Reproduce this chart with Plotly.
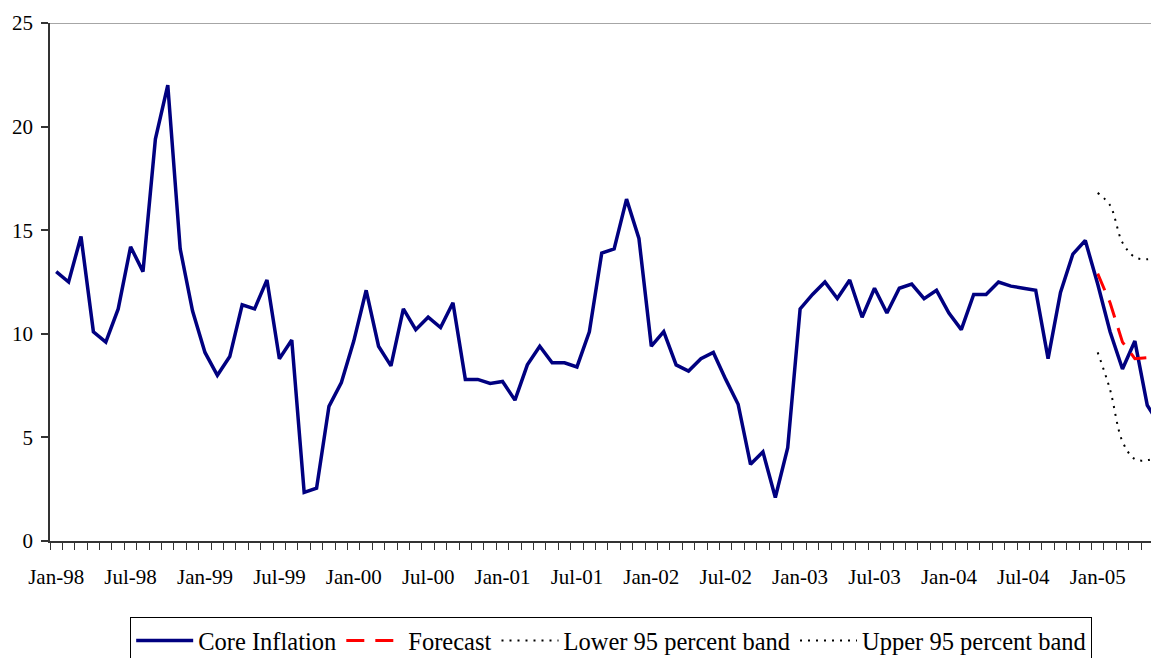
import plotly.graph_objects as go

months = [f"{m}-{y:02d}" for y in [98, 99, 0, 1, 2, 3, 4, 5]
          for m in ["Jan", "Feb", "Mar", "Apr", "May", "Jun", "Jul", "Aug", "Sep", "Oct", "Nov", "Dec"]][:90]

core_inflation = [
    13.0, 12.5, 14.7, 10.1, 9.6, 11.2, 14.2, 13.0, 19.4, 22.0, 14.1, 11.1,
    9.1, 8.0, 8.9, 11.4, 11.2, 12.6, 8.8, 9.7, 2.35, 2.55, 6.5, 7.65,
    9.65, 12.1, 9.4, 8.45, 11.2, 10.2, 10.8, 10.3, 11.5, 7.8, 7.8, 7.6,
    7.7, 6.8, 8.5, 9.4, 8.6, 8.6, 8.4, 10.1, 13.9, 14.1, 16.5, 14.6,
    9.4, 10.1, 8.5, 8.2, 8.8, 9.1, 7.8, 6.6, 3.7, 4.3, 2.1, 4.5,
    11.2, 11.9, 12.5, 11.7, 12.6, 10.8, 12.2, 11.0, 12.2, 12.4, 11.7, 12.1,
    11.0, 10.2, 11.9, 11.9, 12.5, 12.3, 12.2, 12.1, 8.8, 12.0, 13.85, 14.5,
    12.4, 10.1, 8.3, 9.65, 6.55, 5.6,
]
forecast_months = months[84:90]
forecast = [12.9, 11.5, 9.6, 8.8, 8.85, 9.0]
lower_band = [9.1, 7.3, 4.8, 3.95, 3.9, 4.1]
upper_band = [16.8, 16.2, 14.4, 13.7, 13.6, 13.75]

idx = {m: i for i, m in enumerate(months)}
x_core = [idx[m] for m in months]
x_fc = [idx[m] for m in forecast_months]
label_months = months[::6][:15]

FONT = "Liberation Serif, Times New Roman, serif"

fig = go.Figure()
fig.add_trace(go.Scatter(x=x_core, y=core_inflation, mode="lines", name="Core Inflation",
                         line=dict(color="#000080", width=3.5)))
fig.add_trace(go.Scatter(x=x_fc, y=forecast, mode="lines", name="Forecast",
                         line=dict(color="#FF0000", width=3, dash="18px,11px")))
fig.add_trace(go.Scatter(x=x_fc, y=lower_band, mode="lines", name="Lower 95 percent band",
                         line=dict(color="#000000", width=2, dash="2px,6px", shape="spline")))
fig.add_trace(go.Scatter(x=x_fc, y=upper_band, mode="lines", name="Upper 95 percent band",
                         line=dict(color="#000000", width=2, dash="2px,6px", shape="spline")))

fig.add_shape(type="line", xref="paper", yref="y", x0=0, x1=1, y0=25, y1=25,
              line=dict(color="#888888", width=1.5))

fig.update_layout(
    width=1151, height=658,
    margin=dict(l=50, r=0, t=23, b=117, autoexpand=False),
    paper_bgcolor="white", plot_bgcolor="white",
    font=dict(family=FONT, size=21, color="black"),
    showlegend=True,
    legend=dict(orientation="h", xref="container", yref="container",
                x=0.531, xanchor="center", y=1 - 617 / 658, yanchor="top",
                bordercolor="black", borderwidth=1, font=dict(size=24.5, family=FONT),
                itemwidth=57, bgcolor="white", tracegroupgap=0),
    xaxis=dict(range=[-0.5, 88.3], showgrid=False, zeroline=False, automargin=False,
               showline=True, linecolor="#333333", linewidth=1.5,
               tickmode="array", tickvals=[idx[m] for m in label_months], ticktext=label_months,
               ticks="", ticklabelstandoff=16,
               tickfont=dict(size=21, family=FONT),
               minor=dict(tickmode="linear", tick0=-0.5, dtick=1, ticks="outside",
                          ticklen=7, tickcolor="#333333", tickwidth=1, showgrid=False)),
    yaxis=dict(range=[0, 25], dtick=5, showgrid=False, zeroline=False, automargin=False,
               showline=True, linecolor="#333333", linewidth=1.5,
               ticks="outside", ticklen=7, tickcolor="#333333", tickwidth=1.5,
               ticklabelstandoff=4, tickfont=dict(size=21, family=FONT)),
)

fig.write_html("out.html", config={"displayModeBar": False},
               post_script="document.body.style.margin='0';document.body.style.overflow='hidden';")
